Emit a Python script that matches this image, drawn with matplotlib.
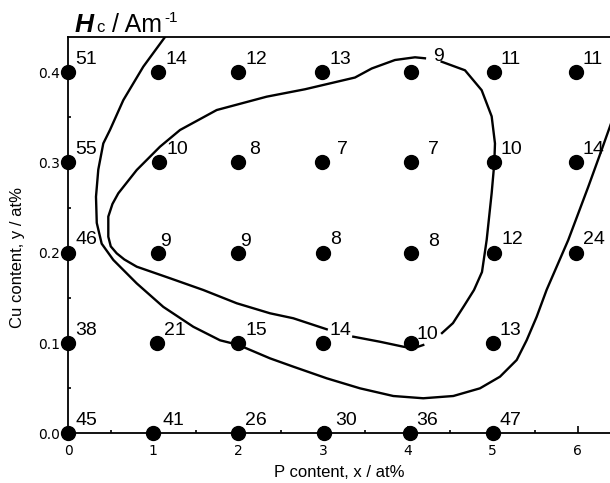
import matplotlib
matplotlib.use("Agg")
import matplotlib.pyplot as plt
from matplotlib.ticker import MultipleLocator, FormatStrFormatter

plt.rcParams['font.family'] = ['Liberation Sans', 'DejaVu Sans']

# Cu content of each row of samples (at%)
cu_rows = [0.4, 0.3, 0.2, 0.1, 0.0]
# P content of the samples in each row (at%)
p_row_04 = [0.0, 1.06, 2.0, 2.99, 4.04, 5.01, 5.98]
p_row_03 = [0.0, 1.07, 2.0, 2.99, 4.04, 5.01, 5.98]
p_row_02 = [0.0, 1.06, 2.0, 3.0, 4.04, 5.02, 5.98]
p_row_01 = [0.0, 1.04, 2.0, 3.0, 4.04, 5.0]
p_row_00 = [0.0, 1.0, 2.0, 3.01, 4.02, 5.0]
# coercivity Hc (A/m) of each sample
hc_row_04 = [51, 14, 12, 13, 9, 11, 11]
hc_row_03 = [55, 10, 8, 7, 7, 10, 14]
hc_row_02 = [46, 9, 9, 8, 8, 12, 24]
hc_row_01 = [38, 21, 15, 14, 10, 13]
hc_row_00 = [45, 41, 26, 30, 36, 47]

p_rows = [p_row_04, p_row_03, p_row_02, p_row_01, p_row_00]
hc_rows = [hc_row_04, hc_row_03, hc_row_02, hc_row_01, hc_row_00]

# contour lines (P, Cu)
outer_p = [1.14, 0.883, 0.648, 0.491, 0.412, 0.353, 0.326, 0.335, 0.393, 0.530,
           0.806, 1.119, 1.472, 1.787, 2.0, 2.376, 2.650, 3.044, 3.436, 3.828,
           4.181, 4.535, 4.849, 5.085, 5.282, 5.399, 5.517, 5.635, 5.889, 6.125,
           6.283, 6.404]
outer_cu = [0.439, 0.406, 0.369, 0.336, 0.321, 0.292, 0.262, 0.233, 0.210, 0.192,
            0.166, 0.140, 0.118, 0.103, 0.098, 0.083, 0.0738, 0.0609, 0.0498, 0.0413,
            0.0388, 0.0413, 0.0498, 0.0627, 0.0812, 0.103, 0.129, 0.159, 0.214, 0.273,
            0.314, 0.346]

inner1_p = [4.398, 4.673, 4.869, 4.987, 5.026, 5.018, 4.987, 4.928, 4.873, 4.779,
            4.661, 4.531, 4.402]
inner1_cu = [0.4115, 0.402, 0.380, 0.351, 0.321, 0.299, 0.266, 0.214, 0.1786, 0.1587,
             0.141, 0.122, 0.111]
inner2_p = [4.181, 4.064, 3.946, 3.671, 3.357]
inner2_cu = [0.0978, 0.0941, 0.0959, 0.1014, 0.107]
inner3_p = [3.044, 2.650, 2.376, 1.984, 1.590, 1.198, 0.806, 0.660, 0.570, 0.500,
            0.471, 0.471, 0.520, 0.589, 0.806, 1.080, 1.316, 1.748, 2.337, 2.788,
            3.377, 3.574, 3.848, 4.084, 4.201]
inner3_cu = [0.1152, 0.1274, 0.1329, 0.144, 0.1587, 0.1717, 0.1845, 0.1925, 0.1993, 0.2070,
             0.2177, 0.240, 0.2540, 0.2658, 0.2916, 0.3174, 0.3359, 0.358, 0.3728, 0.381,
             0.394, 0.404, 0.4134, 0.4164, 0.4153]

# label nudges (points) where the original differs from the usual placement
label_nudge = {(0, 4): (16, 8), (1, 2): (8, 6), (1, 3): (11, 6), (1, 4): (12, 6),
               (2, 1): (1, 5), (2, 2): (1.5, 5), (2, 4): (12, 5), (3, 4): (4, 3),
               (4, 1): (7, 6), (4, 3): (8, 6)}

fig = plt.figure(figsize=(6.1, 4.83), dpi=100)
ax = fig.add_axes([0.112, 0.1029, 0.888, 0.8211])

for line_p, line_cu in [(outer_p, outer_cu), (inner1_p, inner1_cu),
                        (inner2_p, inner2_cu), (inner3_p, inner3_cu)]:
    ax.plot(line_p, line_cu, color='black', lw=1.7, zorder=2,
            solid_joinstyle='round')

for i, cu in enumerate(cu_rows):
    for j, (p, hc) in enumerate(zip(p_rows[i], hc_rows[i])):
        ax.plot(p, cu, 'o', color='black', ms=10, clip_on=False, zorder=4)
        dx, dy = label_nudge.get((i, j), (5, 6))
        ax.annotate(str(hc), (p, cu), xytext=(dx, dy), textcoords='offset points',
                    fontsize=14, ha='left', va='baseline', annotation_clip=False)

ax.set_xlim(0, 6.381)
ax.set_ylim(0, 0.4392)
ax.xaxis.set_major_locator(MultipleLocator(1))
ax.xaxis.set_minor_locator(MultipleLocator(0.5))
ax.yaxis.set_major_locator(MultipleLocator(0.1))
ax.yaxis.set_minor_locator(MultipleLocator(0.05))
ax.yaxis.set_major_formatter(FormatStrFormatter('%.1f'))
ax.tick_params(which='both', direction='in', top=False, right=False, width=1.2,
               labelsize=10, labelfontfamily='DejaVu Sans')
ax.tick_params(which='major', length=5)
ax.tick_params(which='minor', length=2.5)
ax.tick_params(axis='x', pad=8)
ax.tick_params(axis='y', pad=6)

ax.spines['right'].set_visible(False)
for side in ['left', 'top', 'bottom']:
    ax.spines[side].set_linewidth(1.3)

ax.set_xlabel('P content, x / at%', fontsize=12)
ax.xaxis.set_label_coords(0.5, -0.08)
ax.set_ylabel('Cu content, y / at%', fontsize=12)
ax.yaxis.set_label_coords(-0.08, 0.443)

# title H_c / Am^-1 built from pieces
fig.text(75 / 610, 1 - 31.7 / 483, 'H', fontsize=19, fontweight='bold',
         fontstyle='italic', va='baseline')
fig.text(96 / 610, 1 - 32.5 / 483, 'c', fontsize=12, va='baseline')
fig.text(112 / 610, 1 - 31.7 / 483, '/ Am', fontsize=18, va='baseline')
fig.text(164 / 610, 1 - 22 / 483, '-1', fontsize=11, va='baseline')

fig.savefig('out.png', dpi=100)
